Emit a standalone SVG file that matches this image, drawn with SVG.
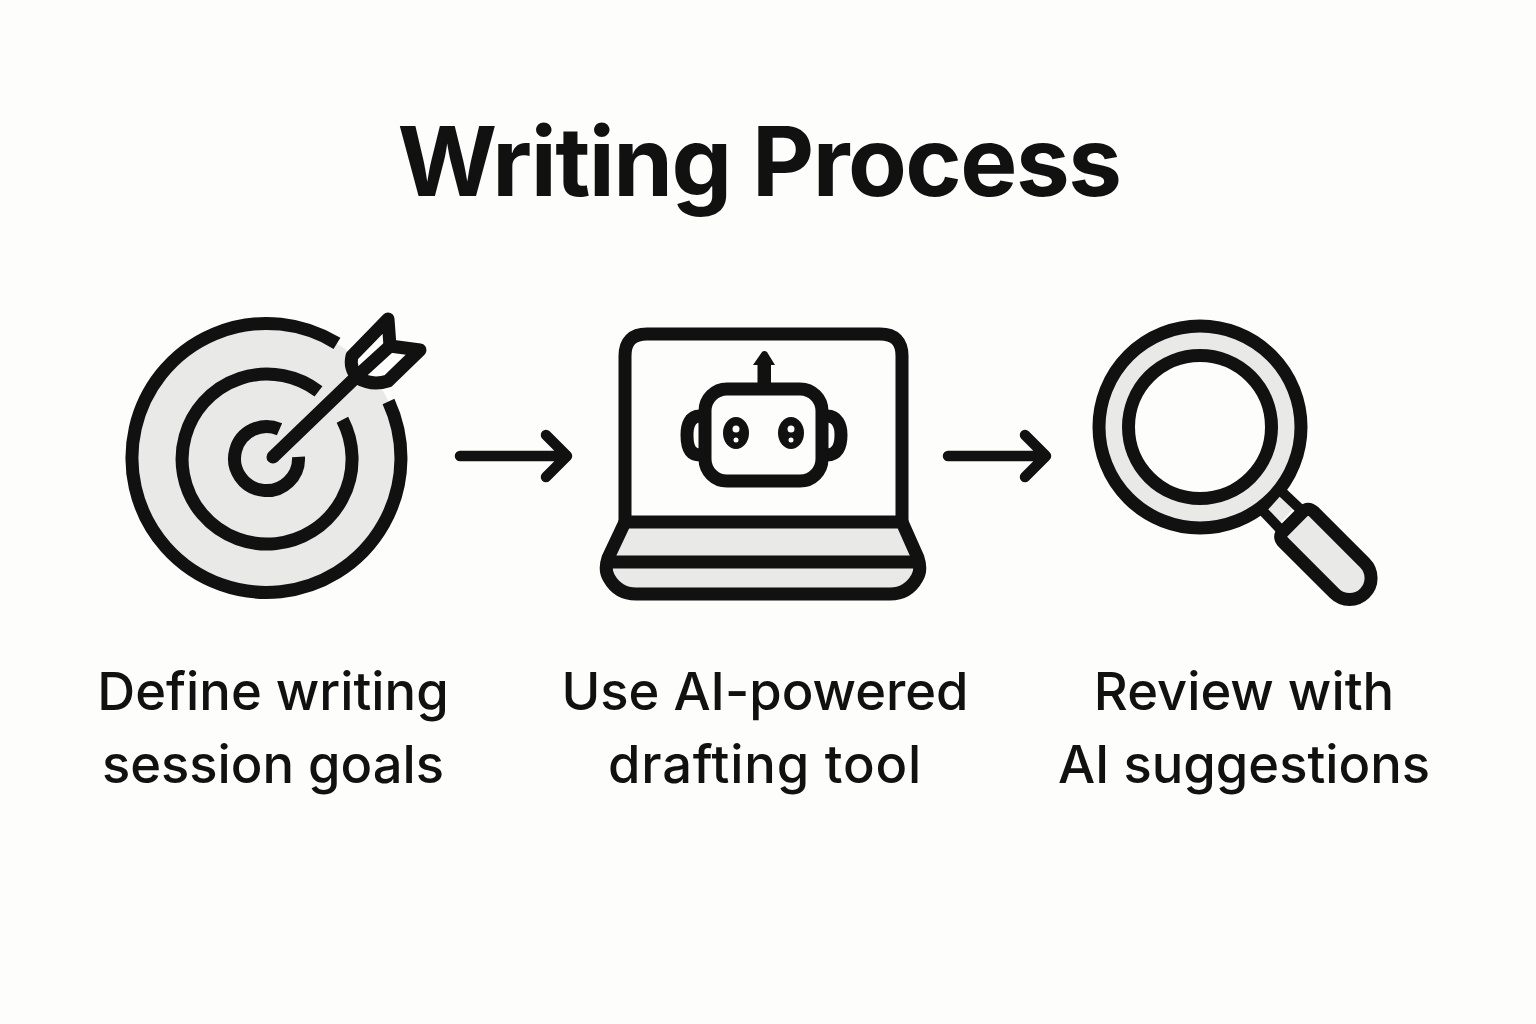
<svg xmlns="http://www.w3.org/2000/svg" width="1536" height="1024" viewBox="0 0 1536 1024">
<style>
.ln{fill:none;stroke:#111;stroke-width:13;stroke-linecap:round;stroke-linejoin:round}
.butt{stroke-linecap:butt}
.conn{stroke-width:10.500}
.gr{fill:#e9e9e8}
.bgf{fill:#fdfdfb}
text{font-family:"Inter","Liberation Sans",sans-serif;fill:#111;text-anchor:middle}
.t{font-size:96px;font-weight:650;letter-spacing:-1.500px}
.l{font-size:52.500px;font-weight:500}
</style>
<rect width="1536" height="1024" fill="#fdfdfb"/>
<text class="t" x="759" y="196">Writing Process</text>
<g id="target">
<circle class="gr" cx="266.500" cy="458" r="134.500"/>
<path class="ln butt" d="M337 343.400A134.500 134.500 0 1 0 388.500 401.400"/>
<path class="ln butt" d="M318.500 391.400A85 85 0 1 0 342.400 419.700"/>
<path class="ln butt" d="M279.500 429.300A32 32 0 1 0 298.500 456.800"/>
<path class="bgf" d="M350 345L395 305L435 340L392 392L358 382Z"/>
<path class="ln" d="M273 457L353 380"/>
<path class="ln" d="M388 319L390 346L420 350L388 381Q372 386 358 378Q349 368 352 356Z"/>
<path class="ln" d="M356 377L390 346"/>
</g>
<g id="laptop">
<path class="gr" d="M625 522H902L920 565Q920 594 895 594H630Q606 594 606 565Z"/>
<path class="bgf" d="M625 522V356Q625 334 647 334H880Q902 334 902 356V522Z"/>
<path class="ln" d="M625 522V356Q625 334 647 334H880Q902 334 902 356V522"/>
<path class="ln" d="M625 522H902L918 558Q922 570 917 578Q908 594 890 594H636Q618 594 609 578Q604 570 608 558Z"/>
<path class="ln" d="M608 562H918"/>
<g id="robot">
<path class="ln" d="M700 416C690 416 687 425 687 435C687 447 690 455 700 455"/>
<path class="ln" d="M827 416C837 416 841 425 841 435C841 447 837 455 827 455"/>
<rect class="ln" x="705" y="389" width="117" height="92" rx="22" style="fill:#fdfdfb"/>
<path d="M757.500 385V365H753L762 352Q764.500 350 767 352L775 365H771V385Z" fill="#111"/>
<ellipse cx="736" cy="433" rx="13" ry="16" fill="#111"/>
<ellipse cx="791" cy="433" rx="13" ry="16" fill="#111"/>
<circle class="bgf" cx="736" cy="429" r="3.500"/><circle class="bgf" cx="736" cy="440" r="2.500"/>
<circle class="bgf" cx="791" cy="429" r="3.500"/><circle class="bgf" cx="791" cy="440" r="2.500"/>
</g>
</g>
<g id="magnifier">
<circle class="gr" cx="1200" cy="427" r="101"/>
<circle class="ln" cx="1200" cy="427" r="101"/>
<circle class="bgf" cx="1200" cy="427" r="71.500"/>
<circle class="ln" cx="1200" cy="427" r="71.500"/>
<path class="gr" d="M1283 493L1297 505L1277 526L1265 513Z"/>
<path class="ln butt" style="stroke-width:10" d="M1281 491L1300 509M1263 511L1281 530"/>
<path class="ln" style="fill:#e9e9e8" transform="translate(1293 521.500) rotate(45)" d="M8 -21.500H80A21.500 21.500 0 0 1 80 21.500H8Q0 21.500 0 13.500V-13.500Q0 -21.500 8 -21.500Z"/>
</g>
<g id="connectors">
<path class="ln conn" d="M460 456H567M546 435L567 456L546 477"/>
<path class="ln conn" d="M948 456H1046M1025 435L1046 456L1025 477"/>
</g>
<g id="label-1"><text class="l" x="273" y="710">Define writing</text><text class="l" x="273" y="783">session goals</text></g>
<g id="label-2"><text class="l" x="765" y="710">Use AI-powered</text><text class="l" x="765" y="783" style="letter-spacing:.8px">drafting tool</text></g>
<g id="label-3"><text class="l" x="1244" y="710">Review with</text><text class="l" x="1244" y="783">AI suggestions</text></g>
</svg>
